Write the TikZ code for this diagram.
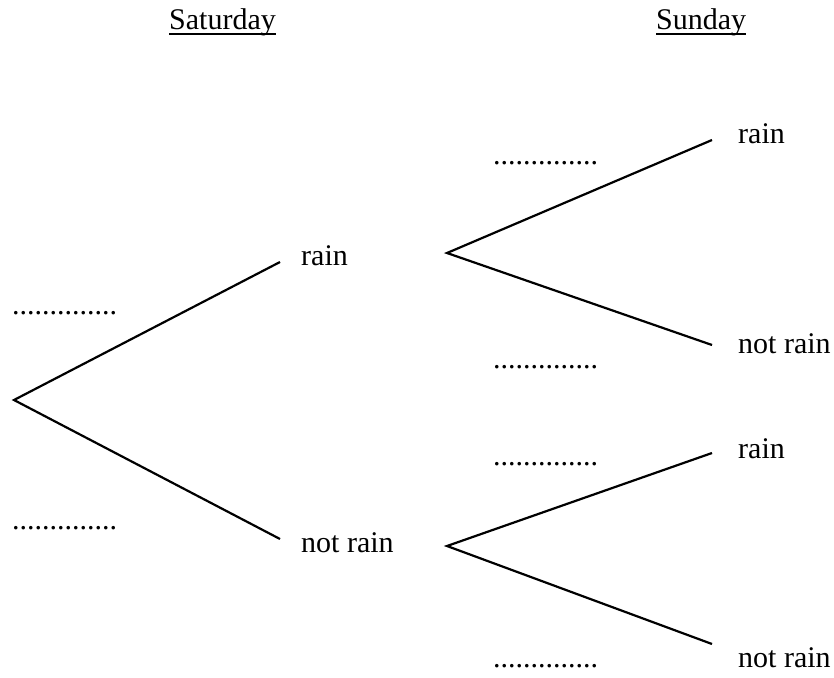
\documentclass[tikz,border=0pt]{standalone}
\usepackage{fontspec}
\setmainfont{Liberation Serif}
\usepackage{tikz}
\usetikzlibrary{positioning, calc}

\begin{document}
\begin{tikzpicture} [x=1pt, y=-1pt, every node/.style={black, inner sep=0pt, anchor=base west, font=\fontsize{30}{34}\selectfont}, branch/.style={line width=2.2pt}]
\useasboundingbox (0,0) rectangle (834,677);
% headings
\node (sat) at (169,30){Saturday};
\node (sun) at (656,30){Sunday};
\draw [line width=1.2pt] ($(sat.base west)+(0,4)$) -- ($(sat.base east)+(0,4)$);
\draw [line width=1.2pt] ($(sun.base west)+(0,4)$) -- ($(sun.base east)+(0,4)$);

% saturday
\coordinate (s0) at (14,400);
\coordinate (r1) at (280,262);
\coordinate (n1) at (280,539);
\draw [branch] (r1) -- (s0) -- (n1);
\node (rain1) at (301,265){rain};
\node (notrain1) at (301,552){not rain};
\node (p1) at (12,314){..............};
\node (p2) at (12,529){..............};

% sunday
\coordinate (a0) at (447,253);
\coordinate (ar) at (712,140);
\coordinate (an) at (712,345);
\draw [branch] (ar) -- (a0) -- (an);
\coordinate (b0) at (447,546);
\coordinate (br) at (712,453);
\coordinate (bn) at (712,644);
\draw [branch] (br) -- (b0) -- (bn);
\node (rain2) at (738,143){rain};
\node (notrain2) at (738,353){not rain};
\node (rain3) at (738,458){rain};
\node (notrain3) at (738,667){not rain};
\foreach \y/\n in {164/q1, 368/q2, 465/q3, 667/q4}
	\node (\n) at (493,\y){..............};
\end{tikzpicture}
\end{document}
